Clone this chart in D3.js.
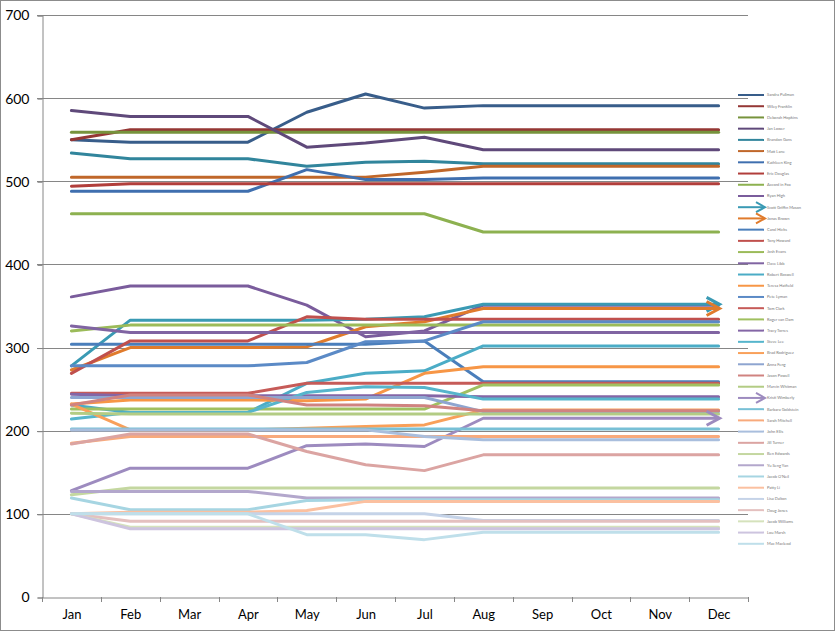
<!DOCTYPE html>
<html lang="en">
<head>
  <meta charset="UTF-8">
  <title>Monthly scores</title>
  <script src="https://d3js.org/d3.v7.min.js"></script>
  <style>
    body { margin: 0; background: #fff; }
    text { font-family: Lato, "Liberation Sans", Arial, sans-serif; }
  </style>
</head>
<body>
  <script>
    // 1. Data
    const months = ["Jan", "Feb", "Mar", "Apr", "May", "Jun", "Jul", "Aug", "Sep", "Oct", "Nov", "Dec"];
    const yTicks = [0, 100, 200, 300, 400, 500, 600, 700];

    const names = [
      "Sandra Pullman", "Wiley Franklin", "Deborah Hopkins", "Jan Lower", "Brandon Gans",
      "Matt Lane", "Kathleen King", "Eric Douglas", "Accord in Fox", "Ryan High",
      "Scott Griffin Mason", "Jonas Brown", "Carol Hicks", "Tony Howard", "Josh Evans",
      "Dave Libb", "Robert Boswell", "Teresa Hatfield", "Pete Lyman", "Tom Clark",
      "Roger van Dam", "Tracy Torres", "Steve Lee", "Brad Rodriguez", "Anna Feng",
      "Jason Powell", "Marvin Whitman", "Kristi Wimberly", "Barbara Goldstein", "Sarah Mitchell",
      "John Ellis", "Jill Turner", "Ben Edwards", "Yu Seng Yan", "Jacob O'Neil",
      "Patty Li", "Lisa Dalton", "Doug Jones", "Jacob Williams", "Lou Marsh",
      "Mac Macleod"
    ];

    // one row per person, Jan..Dec
    const values = [
      [550, 547, 547, 547, 583, 605, 588, 591, 591, 591, 591, 591],
      [550, 562, 562, 562, 562, 562, 562, 562, 562, 562, 562, 562],
      [559, 559, 559, 559, 559, 559, 559, 559, 559, 559, 559, 559],
      [585, 578, 578, 578, 541, 546, 553, 538, 538, 538, 538, 538],
      [534, 527, 527, 527, 518, 523, 524, 521, 521, 521, 521, 521],
      [505, 505, 505, 505, 505, 505, 511, 518, 518, 518, 518, 518],
      [488, 488, 488, 488, 514, 502, 502, 504, 504, 504, 504, 504],
      [494, 497, 497, 497, 497, 497, 497, 497, 497, 497, 497, 497],
      [461, 461, 461, 461, 461, 461, 461, 439, 439, 439, 439, 439],
      [361, 374, 374, 374, 351, 313, 320, 351, 351, 351, 351, 351],
      [278, 333, 333, 333, 333, 334, 337, 352, 352, 352, 352, 352],
      [273, 300, 300, 300, 301, 325, 331, 347, 347, 347, 347, 347],
      [304, 304, 304, 304, 304, 304, 308, 259, 259, 259, 259, 259],
      [269, 308, 308, 308, 337, 334, 334, 334, 334, 334, 334, 334],
      [320, 327, 327, 327, 327, 327, 327, 327, 327, 327, 327, 327],
      [326, 318, 318, 318, 318, 318, 318, 318, 318, 318, 318, 318],
      [231, 222, 222, 222, 257, 269, 272, 302, 302, 302, 302, 302],
      [232, 237, 237, 237, 236, 238, 269, 277, 277, 277, 277, 277],
      [278, 278, 278, 278, 282, 307, 308, 331, 331, 331, 331, 331],
      [245, 245, 245, 245, 257, 257, 257, 257, 257, 257, 257, 257],
      [226, 226, 226, 226, 226, 226, 226, 255, 255, 255, 255, 255],
      [244, 242, 242, 242, 242, 242, 242, 241, 241, 241, 241, 241],
      [214, 222, 222, 222, 246, 253, 252, 238, 238, 238, 238, 238],
      [232, 201, 201, 201, 203, 205, 207, 225, 225, 225, 225, 225],
      [240, 240, 240, 240, 240, 240, 240, 223, 223, 223, 223, 223],
      [231, 243, 243, 243, 231, 231, 230, 224, 224, 224, 224, 224],
      [221, 220, 220, 220, 220, 220, 220, 220, 220, 220, 220, 220],
      [128, 155, 155, 155, 182, 184, 181, 215, 215, 215, 215, 215],
      [202, 202, 202, 202, 202, 202, 202, 202, 202, 202, 202, 202],
      [185, 193, 193, 193, 193, 193, 193, 193, 193, 193, 193, 193],
      [201, 201, 201, 201, 201, 201, 193, 189, 189, 189, 189, 189],
      [184, 196, 196, 196, 175, 159, 152, 171, 171, 171, 171, 171],
      [123, 131, 131, 131, 131, 131, 131, 131, 131, 131, 131, 131],
      [127, 127, 127, 127, 119, 119, 119, 119, 119, 119, 119, 119],
      [119, 105, 105, 105, 116, 117, 117, 117, 117, 117, 117, 117],
      [100, 102, 102, 102, 104, 115, 115, 115, 115, 115, 115, 115],
      [100, 100, 100, 100, 100, 100, 100, 92, 92, 92, 92, 92],
      [100, 91, 91, 91, 91, 91, 91, 91, 91, 91, 91, 91],
      [100, 84, 84, 84, 84, 84, 84, 84, 84, 84, 84, 84],
      [100, 82, 82, 82, 82, 82, 82, 82, 82, 82, 82, 82],
      [100, 100, 100, 100, 75, 75, 69, 78, 78, 78, 78, 78]
    ];

    // series that end in an arrow head
    const arrowSeries = [10, 11, 27];

    // Excel-ish palette: six hues, getting lighter every six series
    const colors = [
      "#385d8a", "#953735", "#77933c", "#5f497a", "#31859c", "#c0672a",
      "#3f6faf", "#b13e3b", "#8db150", "#7a5c9c", "#3a9ab4", "#e07b2c",
      "#4a7ebb", "#c0504d", "#9bbb59", "#8064a2", "#4bacc6", "#f79646",
      "#5b8ac6", "#c65b58", "#a0c060", "#8466a6", "#56b5cc", "#f9a05a",
      "#8ea5d0", "#d08380", "#b3cc84", "#9d8bbf", "#78c0d6", "#f8aa7c",
      "#a9bedd", "#dba4a2", "#c4d7a0", "#b3a7cc", "#a6d5e2", "#fbc0a0",
      "#c5d3e8", "#e4c0bf", "#d5e2bc", "#cdc4df", "#bfdfea"
    ];

    // 2. SVG Canvas
    const width = 835, height = 631;
    const plot = { left: 42, right: 748, top: 15, bottom: 597 };

    const svg = d3.select("body")
                  .append("svg")
                  .attr("width", width)
                  .attr("height", height);

    svg.append("rect")
       .attr("x", 0.5).attr("y", 0.5)
       .attr("width", width - 1).attr("height", height - 1)
       .attr("fill", "#fff")
       .attr("stroke", "#8c8c8c");

    // 3. Scales
    const xScale = d3.scalePoint()
                     .domain(months)
                     .range([plot.left, plot.right])
                     .padding(0.5);

    const xBand = d3.scaleBand()
                    .domain(months)
                    .range([plot.left, plot.right]);

    const yScale = d3.scaleLinear()
                     .domain([0, 700])
                     .range([plot.bottom, plot.top]);

    // 4. Grid + axes
    svg.append("g")
       .selectAll("line")
       .data(yTicks.filter(d => d > 0))
       .join("line")
       .attr("x1", plot.left - 5)
       .attr("x2", plot.right)
       .attr("y1", d => Math.round(yScale(d)) + 0.5)
       .attr("y2", d => Math.round(yScale(d)) + 0.5)
       .attr("stroke", "#868686");

    const yAxis = svg.append("g")
       .attr("transform", `translate(${plot.left + 0.5}, 0.5)`)
       .call(d3.axisLeft(yScale).tickValues(yTicks).tickSize(5).tickPadding(8));
    yAxis.selectAll("line, path").attr("stroke", "#868686");
    yAxis.selectAll("text").attr("font-size", 14).attr("fill", "#000");

    const xAxis = svg.append("g")
       .attr("transform", `translate(0.5, ${plot.bottom + 0.5})`)
       .call(d3.axisBottom(xBand).tickSize(0).tickPadding(12));
    xAxis.select("path").attr("stroke", "#868686");
    xAxis.selectAll("text").attr("font-size", 13).attr("fill", "#000");

    // tick marks between categories
    svg.append("g")
       .selectAll("line")
       .data(months.map(m => xBand(m)).concat([plot.right]))
       .join("line")
       .attr("x1", d => Math.round(d) + 0.5)
       .attr("x2", d => Math.round(d) + 0.5)
       .attr("y1", plot.bottom)
       .attr("y2", plot.bottom + 5)
       .attr("stroke", "#868686");

    // 5. Lines
    const line = d3.line()
                   .x((d, i) => xScale(months[i]))
                   .y(d => yScale(d));

    const arrow = (x, y, len, half) =>
      `M${x - len},${y - half}L${x},${y}L${x - len},${y + half}`;

    const series = svg.append("g")
       .selectAll("g")
       .data(values)
       .join("g");

    series.append("path")
          .attr("d", d => line(d))
          .attr("fill", "none")
          .attr("stroke", (d, i) => colors[i])
          .attr("stroke-width", 3)
          .attr("stroke-linejoin", "round")
          .attr("stroke-linecap", "round");

    series.filter((d, i) => arrowSeries.includes(i))
          .append("path")
          .attr("d", d => arrow(xScale("Dec") + 1, yScale(d[d.length - 1]), 13, 7))
          .attr("fill", "none")
          .attr("stroke", (d) => colors[values.indexOf(d)])
          .attr("stroke-width", 3)
          .attr("stroke-linejoin", "miter");

    // 6. Legend
    const legend = svg.append("g")
       .selectAll("g")
       .data(names)
       .join("g")
       .attr("transform", (d, i) => `translate(738, ${95 + i * 11.22})`);

    legend.append("line")
          .attr("x1", 0).attr("x2", 26)
          .attr("stroke", (d, i) => colors[i])
          .attr("stroke-width", 2);

    legend.filter((d, i) => arrowSeries.includes(i))
          .append("path")
          .attr("d", arrow(27, 0, 9, 5))
          .attr("fill", "none")
          .attr("stroke", d => colors[names.indexOf(d)])
          .attr("stroke-width", 2);

    legend.append("text")
          .attr("x", 29)
          .attr("dy", "0.35em")
          .attr("font-size", 4)
          .attr("fill", "#777")
          .text(d => d);
  </script>
</body>
</html>
